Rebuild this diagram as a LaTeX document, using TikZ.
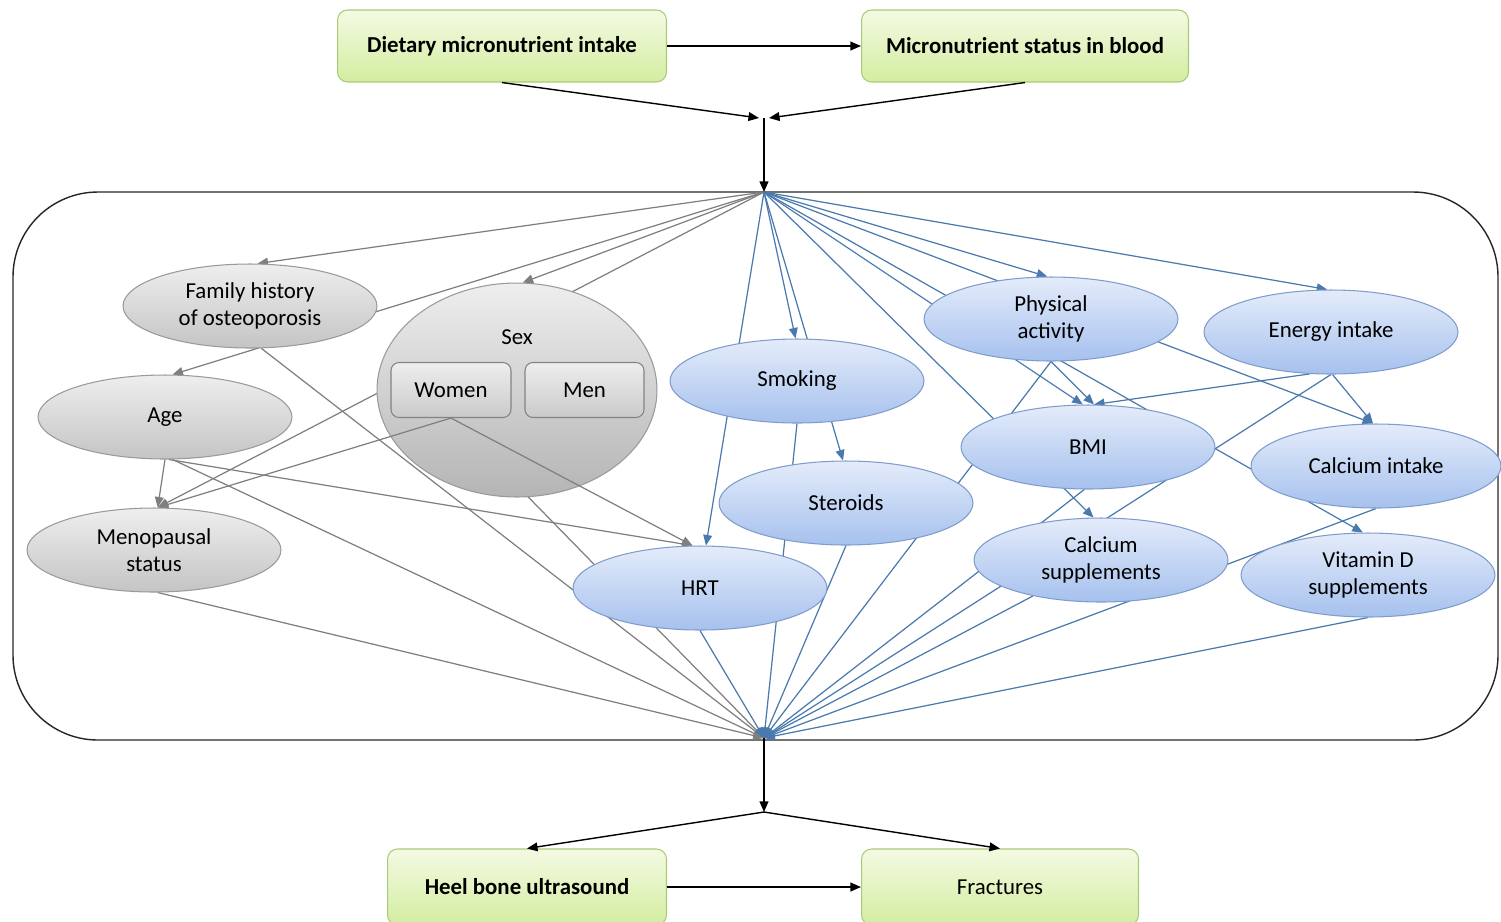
\documentclass[tikz,border=0pt]{standalone}
\usepackage{fontspec}
\setmainfont{Carlito}
\usetikzlibrary{arrows.meta,shapes.geometric}
\pgfdeclarelayer{bg}
\pgfdeclarelayer{circ}
\pgfsetlayers{bg,circ,main}
\definecolor{grline}{HTML}{7F7F7F}
\definecolor{blline}{HTML}{4A7AAD}
\definecolor{greentop}{HTML}{F4FAE3}
\definecolor{greenbot}{HTML}{D3EDA0}
\definecolor{greenbd}{HTML}{A9CB78}
\definecolor{graytop}{HTML}{EEEEEE}
\definecolor{graybot}{HTML}{C4C4C4}
\definecolor{graybd}{HTML}{9A9A9A}
\definecolor{bluetop}{HTML}{E4ECFA}
\definecolor{bluebot}{HTML}{A6C1EE}
\definecolor{bluebd}{HTML}{7F9CCB}
\begin{document}
\begin{tikzpicture}[x=0.02cm,y=-0.02cm,
  gbox/.style={draw=greenbd, line width=0.6pt, rounded corners=0.2cm, top color=greentop, bottom color=greenbot,
    minimum height=1.44cm, inner sep=0pt, font=\fontsize{13}{15}\selectfont\bfseries},
  grayell/.style={ellipse, draw=graybd, line width=0.6pt, top color=graytop, bottom color=graybot,
    minimum width=5.08cm, minimum height=1.68cm, inner sep=0pt, align=center, font=\fontsize{13}{15.5}\selectfont},
  blueell/.style={ellipse, draw=bluebd, line width=0.6pt, top color=bluetop, bottom color=bluebot,
    minimum width=5.08cm, minimum height=1.68cm, inner sep=0pt, align=center, font=\fontsize{13}{15.5}\selectfont},
  sexbox/.style={draw=graybd!85!black, line width=0.6pt, rounded corners=0.16cm, top color=graytop, bottom color=graybot!90,
    minimum height=1.1cm, inner sep=0pt, font=\fontsize{13}{15}\selectfont},
  garr/.style={draw=grline, line width=0.7pt, -{Triangle[length=6pt,width=5pt]}},
  barr/.style={draw=blline, line width=0.7pt, -{Triangle[length=6pt,width=5pt]}},
  karr/.style={draw=black, line width=0.8pt, -{Triangle[length=6pt,width=5pt]}},
  frame/.style={draw=black!85, line width=0.8pt, rounded corners=1.7cm}
]
\useasboundingbox (0,0) rectangle (1501,921);
\clip (0,0) rectangle (1501,921);

\coordinate (T) at (764,192);
\coordinate (B) at (764,738);
\coordinate (J1) at (764,118);
\coordinate (J1l) at (759,118);
\coordinate (J1r) at (769,118);
\coordinate (J2) at (764,812);

% green boxes
\node[gbox, minimum width=6.58cm] (diet) at (502,46) {Dietary micronutrient intake};
\node[gbox, minimum width=6.54cm] (micro) at (1025,46) {Micronutrient status in blood};
\node[gbox, minimum width=5.58cm, minimum height=1.52cm] (heel) at (527,887) {Heel bone ultrasound};
\node[gbox, minimum width=5.54cm, minimum height=1.52cm, font=\fontsize{13}{15}\selectfont] (frac) at (1000,887) {Fractures};

% gray nodes
\node[grayell] (fh) at (250,306) {Family history\\of osteoporosis};
\node[grayell] (age) at (165,417) {Age};
\node[grayell] (meno) at (154,550) {Menopausal\\status};
\node[sexbox, minimum width=2.4cm] (women) at (451,390) {Women};
\node[sexbox, minimum width=2.38cm] (men) at (584.5,390) {Men};
\node[font=\fontsize{13}{15}\selectfont] (sexlbl) at (517,337) {Sex};

% blue nodes
\node[blueell] (smk) at (797,381) {Smoking};
\node[blueell] (ster) at (846,503) {Steroids};
\node[blueell] (hrt) at (700,588) {HRT};
\node[blueell] (pa) at (1051,319) {Physical\\activity};
\node[blueell] (ei) at (1331,332) {Energy intake};
\node[blueell] (bmi) at (1088,447) {BMI};
\node[blueell, minimum width=5.0cm] (ci) at (1376,466) {Calcium intake};
\node[blueell] (cs) at (1101,560) {Calcium\\supplements};
\node[blueell] (vd) at (1368,575) {Vitamin D\\supplements};

% Sex circle and the edges leaving the Women box (drawn over the circle)
\begin{pgfonlayer}{circ}
\node[ellipse, draw=graybd, line width=0.6pt, top color=graytop, bottom color=graybot!92!black,
  minimum width=5.6cm, minimum height=4.28cm, inner sep=0pt] (sex) at (517,390) {};
\draw[garr] (women.south) -- (meno.85);
\draw[garr] (women.south) -- (hrt.100);
\end{pgfonlayer}

\begin{pgfonlayer}{bg}
\draw[frame] (13,192) rectangle (1498,740);
% gray edges
\draw[garr] (T) -- (fh.80);
\draw[garr] (T) -- (age.80);
\draw[garr] (T) -- (sex.87);
\draw[garr] (T) -- (meno.85);
\draw[garr] (age.south) -- (meno.85);
\draw[garr] (age.-85) -- (hrt.100);
\draw[garr] (fh.-75) -- (B);
\draw[garr] (age.-80) -- (B);
\draw[garr] (meno.-85) -- (B);
\draw[garr] (women.south) -- (B);
% blue edges from the top
\draw[barr] (T) -- (hrt.82);
\draw[barr] (T) -- (smk.92);
\draw[barr] (T) -- (ster.94);
\draw[barr] (T) -- (pa.95);
\draw[barr] (T) -- (ei.95);
\draw[barr] (T) -- (ci.94);
\draw[barr] (T) -- (bmi.97);
\draw[barr] (T) -- (cs.100);
\draw[barr] (T) -- (vd.97);
% blue edges between nodes
\draw[barr] (pa.south) -- (bmi.82);
\draw[barr] (ei.-117) -- (bmi.82);
\draw[barr] (ei.-88) -- (ci.94);
% blue edges to the bottom
\draw[barr] (hrt.south) -- (B);
\draw[barr] (smk.south) -- (B);
\draw[barr] (ster.south) -- (B);
\draw[barr] (pa.south) -- (B);
\draw[barr] (bmi.-95) -- (B);
\draw[barr] (ei.south) -- (B);
\draw[barr] (ci.south) -- (B);
\draw[barr] (cs) -- (B);
\draw[barr] (vd.south) -- (B);
\end{pgfonlayer}

% black connectors
\draw[karr] (diet.east) -- (micro.west);
\draw[karr] (diet.south) -- (J1l);
\draw[karr] (micro.south) -- (J1r);
\draw[karr] (J1) -- (T);
\draw[karr] (B) -- (J2);
\draw[karr] (J2) -- (heel.north);
\draw[karr] (J2) -- (frac.north);
\draw[karr] (heel.east) -- (frac.west);
\end{tikzpicture}
\end{document}
